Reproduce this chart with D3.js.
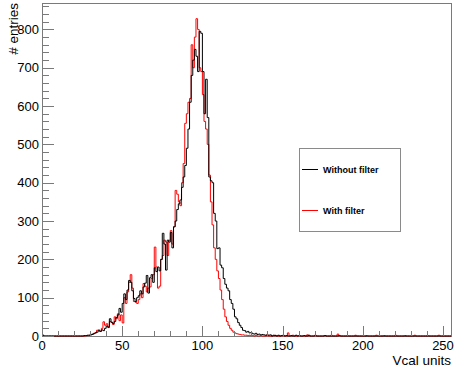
<!DOCTYPE html>
<html><head><meta charset="utf-8">
<script src="https://cdn.jsdelivr.net/npm/d3@7"></script>
<style>html,body{margin:0;padding:0;background:#fff;}svg{display:block;font-family:"Liberation Sans",Arial,sans-serif;}</style>
</head><body>
<svg id="c" width="456" height="374"></svg>
<script>
// ---- data ----
const nBins = 255;
const startBin = 26;
const withoutFilter = [1,1,2,2,3,4,6,8,10,14,12,16,14,20,26,22,45,36,33,38,48,55,72,62,85,110,95,120,145,140,118,98,90,100,105,118,110,128,138,158,112,152,160,140,178,168,180,170,200,268,240,172,250,245,270,230,285,300,330,345,355,388,415,445,490,540,610,680,720,748,730,690,795,790,690,580,670,570,415,405,400,320,300,228,230,185,178,150,135,125,118,95,85,70,50,45,35,28,22,15,14,10,12,8,9,6,5,7,4,5,3,4,3,2,3];
const withFilter = [0,1,1,2,3,5,7,9,15,16,12,20,37,28,32,25,38,35,30,50,45,58,40,55,34,100,85,115,140,160,125,90,88,85,95,110,100,137,130,115,125,128,150,160,232,180,125,130,200,210,250,245,210,250,275,240,285,380,370,350,340,400,450,555,580,610,620,760,700,780,828,800,700,690,630,560,540,500,420,350,290,230,200,170,150,120,95,70,50,38,28,20,15,10,8,6,5,4,3,3,2,2,1,2,1];
const tailWithout = [[0,1],[141,2],[142,3],[144,2],[145,1],[147,2],[149,1],[150,2],[152,1],[155,1],[158,2],[160,1],[163,1],[166,2],[170,1],[176,1],[185,1]];
const tailWith = [[0,3],[131,1],[133,2],[136,1],[140,3],[145,2],[150,1],[153,8],[156,2],[160,1],[165,3],[170,2],[176,1],[180,2],[184,5],[190,1],[195,2],[202,1],[208,2],[213,1],[220,2],[226,1],[232,2],[240,1],[247,2]];
const xTicks = [0,50,100,150,200,250];
const yTicks = [0,100,200,300,400,500,600,700,800];
const seriesNames = ["Without filter","With filter"];
const seriesColors = ["#000000","#ff0000"];
const xTitle = "Vcal units";
const yTitle = "# entries";

function fullHist(vals, tail){
  const h = new Array(nBins).fill(0);
  vals.forEach((v,i)=>{ h[startBin+i] = v; });
  tail.forEach(([b,v])=>{ h[b] = v; });
  return h;
}
const hists = [fullHist(withoutFilter, tailWithout), fullHist(withFilter, tailWith)];

// ---- layout ----
const svg = d3.select("#c");
const L = 42, R = 451, T = 3, B = 336;
const x = d3.scaleLinear().domain([0, nBins]).range([L, R]);
const y = d3.scaleLinear().domain([0, 869]).range([B, T]);
const axisCol = "#7a7a7a";

// frame
svg.append("rect").attr("x",L+0.5).attr("y",T+0.5).attr("width",R-L).attr("height",B-T)
  .attr("fill","none").attr("stroke",axisCol).attr("stroke-width",1);

// histograms (red first, black on top)
const line = d3.line().x(d=>x(d[0])).y(d=>y(d[1])).curve(d3.curveStepAfter);
[1,0].forEach(si=>{
  const h = hists[si];
  const pts = h.map((v,i)=>[i,v]);
  pts.push([nBins, h[nBins-1]]);
  svg.append("path").attr("d", line(pts)).attr("fill","none")
    .attr("stroke", seriesColors[si]).attr("stroke-width",1);
});

// x axis ticks (inward)
const gx = svg.append("g");
d3.range(0, nBins+1, 10).forEach(v=>{
  const major = v % 50 === 0;
  gx.append("line").attr("x1",Math.round(x(v))+0.5).attr("x2",Math.round(x(v))+0.5)
    .attr("y1",B).attr("y2",B-(major?10:5)).attr("stroke",axisCol);
});
gx.selectAll("text.xl").data(xTicks).enter().append("text")
  .attr("x",d=>x(d)).attr("y",349.5).attr("text-anchor","middle")
  .attr("font-size",13).attr("fill","#000").text(d=>d);
svg.append("text").attr("x",451).attr("y",365).attr("text-anchor","end")
  .attr("font-size",13.5).attr("fill","#000").text(xTitle);

// y axis ticks
const gy = svg.append("g");
d3.range(0, 861, 20).forEach(v=>{
  const major = v % 100 === 0;
  gy.append("line").attr("x1",L).attr("x2",L+(major?12:7))
    .attr("y1",Math.round(y(v))+0.5).attr("y2",Math.round(y(v))+0.5).attr("stroke",axisCol);
});
gy.selectAll("text.yl").data(yTicks).enter().append("text")
  .attr("x",39).attr("y",d=>y(d)+4.5).attr("text-anchor","end")
  .attr("font-size",13).attr("fill","#000").text(d=>d);
svg.append("text").attr("transform","translate(18,3) rotate(-90)")
  .attr("text-anchor","end").attr("font-size",13.5).attr("fill","#000").text(yTitle);

// legend
const lg = svg.append("g");
lg.append("rect").attr("x",299.5).attr("y",148.5).attr("width",101).attr("height",83)
  .attr("fill","#fff").attr("stroke","#8a8a8a");
const ly = [169.5, 210.5];
seriesNames.forEach((n,i)=>{
  lg.append("line").attr("x1",302).attr("x2",318).attr("y1",ly[i]).attr("y2",ly[i])
    .attr("stroke",seriesColors[i]).attr("stroke-width",1);
  lg.append("text").attr("x",323).attr("y",ly[i]+3.3).attr("font-size",9).attr("font-weight","bold")
    .attr("fill","#000").text(n);
});
</script>
</body></html>
